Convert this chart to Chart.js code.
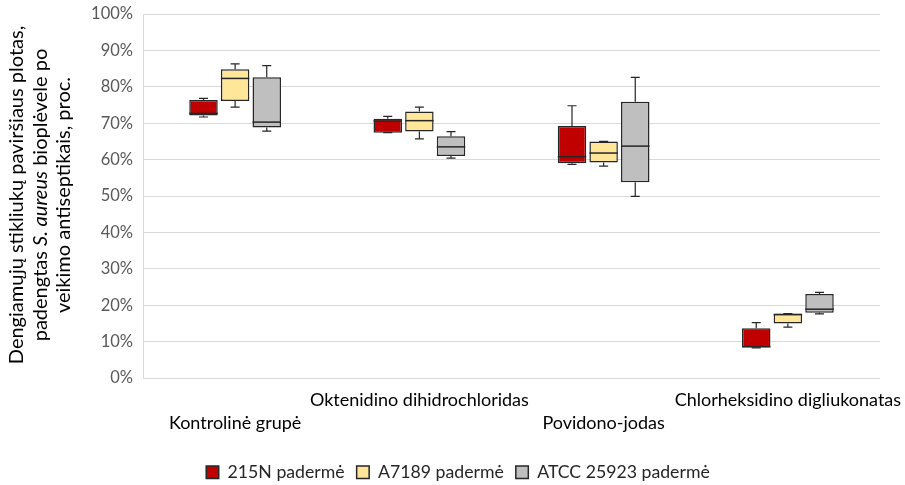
<!DOCTYPE html>
<html>
<head>
<meta charset="utf-8">
<script src="https://cdn.jsdelivr.net/npm/chart.js@4.4.1/dist/chart.umd.min.js"></script>
<style>
  html, body { margin: 0; padding: 0; background: #ffffff; }
  #wrap { width: 905px; height: 485px; position: relative; }
</style>
</head>
<body>
<div id="wrap"><canvas id="chart"></canvas></div>
<script>
// Categories (antiseptic treatments)
const categories = [
  'Kontrolinė grupė',
  'Oktenidino dihidrochloridas',
  'Povidono-jodas',
  'Chlorheksidino digliukonatas'
];

// Strains shown in the legend
const seriesNames = ['215N padermė', 'A7189 padermė', 'ATCC 25923 padermė'];

// Box statistics per category, in %: [min, q1, median, q3, max]
const box215N = [
  [71.7, 72.1, 72.7, 76.4, 76.8],
  [67.4, 67.4, 70.6, 71.2, 71.9],
  [58.7, 59.0, 60.8, 69.2, 74.8],
  [8.3, 8.4, 8.6, 13.7, 15.2]
];
const boxA7189 = [
  [74.4, 76.1, 82.3, 84.8, 86.3],
  [65.7, 67.7, 70.7, 73.2, 74.4],
  [58.2, 59.2, 61.8, 65.0, 65.0],
  [14.0, 15.0, 17.4, 17.7, 17.7]
];
const boxATCC = [
  [67.8, 68.8, 70.3, 82.6, 85.8],
  [60.4, 61.0, 63.5, 66.4, 67.7],
  [49.9, 53.8, 63.7, 75.9, 82.6],
  [17.6, 17.9, 18.9, 23.1, 23.5]
];

// Y axis range and step, in %
const yMin = 0;
const yMax = 100;
const yStep = 10;

// Y axis title, line by line; italic segments flagged
const yTitleLines = [
  [['Dengiamųjų stikliukų paviršiaus plotas,', false]],
  [['padengtas ', false], ['S. aureus', true], [' bioplėvele po', false]],
  [['veikimo antiseptikais, proc.', false]]
];

const fillColors = ['#C00000', '#FFE699', '#BFBFBF'];
const edgeColor = '#262626';
const FONT = 'Lato, "Liberation Sans", sans-serif';

const boxSets = [box215N, boxA7189, boxATCC];

const datasets = boxSets.map((stats, k) => ({
  label: seriesNames[k],
  data: stats.map(s => [s[1], s[3]]),
  stats: stats,
  backgroundColor: fillColors[k],
  borderColor: edgeColor,
  borderWidth: 1.5,
  borderSkipped: false,
  categoryPercentage: 0.515,
  barPercentage: 0.9
}));

// Whiskers, caps and median lines on top of the floating bars
const boxExtras = {
  id: 'boxExtras',
  afterDatasetsDraw(chart) {
    const ctx = chart.ctx;
    const y = chart.scales.y;
    ctx.save();
    ctx.strokeStyle = edgeColor;
    chart.data.datasets.forEach((ds, di) => {
      const meta = chart.getDatasetMeta(di);
      meta.data.forEach((el, i) => {
        const [mn, q1, md, q3, mx] = ds.stats[i];
        const x = el.x;
        const half = el.width / 2;
        const cap = 4.5;
        ctx.lineWidth = 1.2;
        ctx.beginPath();
        // upper whisker
        if (mx > q3) {
          ctx.moveTo(x, y.getPixelForValue(q3));
          ctx.lineTo(x, y.getPixelForValue(mx));
        }
        ctx.moveTo(x - cap, y.getPixelForValue(mx));
        ctx.lineTo(x + cap, y.getPixelForValue(mx));
        // lower whisker
        if (mn < q1) {
          ctx.moveTo(x, y.getPixelForValue(q1));
          ctx.lineTo(x, y.getPixelForValue(mn));
        }
        ctx.moveTo(x - cap, y.getPixelForValue(mn));
        ctx.lineTo(x + cap, y.getPixelForValue(mn));
        ctx.stroke();
        // median
        ctx.lineWidth = 1.5;
        ctx.beginPath();
        ctx.moveTo(x - half, y.getPixelForValue(md));
        ctx.lineTo(x + half, y.getPixelForValue(md));
        ctx.stroke();
      });
    });
    ctx.restore();
  }
};

// Rotated, multi-line y axis title with an italic species name
const yTitle = {
  id: 'yTitle',
  afterDraw(chart) {
    const ctx = chart.ctx;
    const area = chart.chartArea;
    const cy = (area.top + area.bottom) / 2 - 1;
    const xs = [17, 40.5, 64];
    const size = 20;
    ctx.save();
    ctx.fillStyle = '#000000';
    ctx.textBaseline = 'middle';
    yTitleLines.forEach((segs, li) => {
      const fonts = segs.map(s => (s[1] ? 'italic ' : '') + size + 'px ' + FONT);
      let total = 0;
      const widths = segs.map((s, j) => { ctx.font = fonts[j]; const w = ctx.measureText(s[0]).width; total += w; return w; });
      ctx.save();
      ctx.translate(xs[li], cy);
      ctx.rotate(-Math.PI / 2);
      let cx = -total / 2;
      ctx.textAlign = 'left';
      segs.forEach((s, j) => {
        ctx.font = fonts[j];
        ctx.fillText(s[0], cx, 0);
        cx += widths[j];
      });
      ctx.restore();
    });
    ctx.restore();
  }
};

// Centre the legend row under the whole canvas rather than the padded box
const legendShift = {
  id: 'legendShift',
  afterLayout(chart) {
    const lg = chart.legend;
    if (lg) {
      lg.left += 18;
      lg.right += 18;
    }
  }
};

function build() {
  new Chart(document.getElementById('chart'), {
    type: 'bar',
    data: { labels: categories, datasets: datasets },
    plugins: [boxExtras, yTitle, legendShift],
    options: {
      responsive: true,
      maintainAspectRatio: false,
      animation: false,
      layout: { padding: { top: 14, right: 25, bottom: -6, left: 0 } },
      plugins: {
        tooltip: { enabled: false },
        legend: {
          position: 'bottom',
          labels: {
            font: { family: FONT, size: 17.7 },
            color: '#262626',
            boxWidth: 12.5,
            boxHeight: 12.5,
            padding: 12
          }
        }
      },
      scales: {
        x: {
          grid: { display: false, drawTicks: false },
          border: { display: false },
          ticks: {
            autoSkip: false,
            maxRotation: 0,
            minRotation: 0,
            padding: 10,
            color: '#000000',
            font: { family: FONT, size: 18, lineHeight: 1.3 },
            callback: (v, i) => (i % 2 === 0 ? ['', categories[i]] : [categories[i], ''])
          },
          afterFit(scale) {
            scale.height = 73.3;
            scale.paddingLeft = 0;
            scale.paddingRight = 0;
          }
        },
        y: {
          min: yMin,
          max: yMax,
          grid: { color: '#D9D9D9', lineWidth: 1, drawTicks: false },
          border: { display: true, color: '#D9D9D9' },
          ticks: {
            stepSize: yStep,
            padding: 10,
            color: '#595959',
            font: { family: FONT, size: 16.5 },
            callback: v => v + '%'
          },
          afterFit(scale) {
            scale.width = 143;
            scale.paddingTop = 0;
            scale.paddingBottom = 0;
          }
        }
      }
    }
  });
}

if (document.fonts && document.fonts.load) {
  Promise.all([
    document.fonts.load('16px Lato'),
    document.fonts.load('italic 16px Lato')
  ]).then(build, build);
} else {
  build();
}
</script>
</body>
</html>
